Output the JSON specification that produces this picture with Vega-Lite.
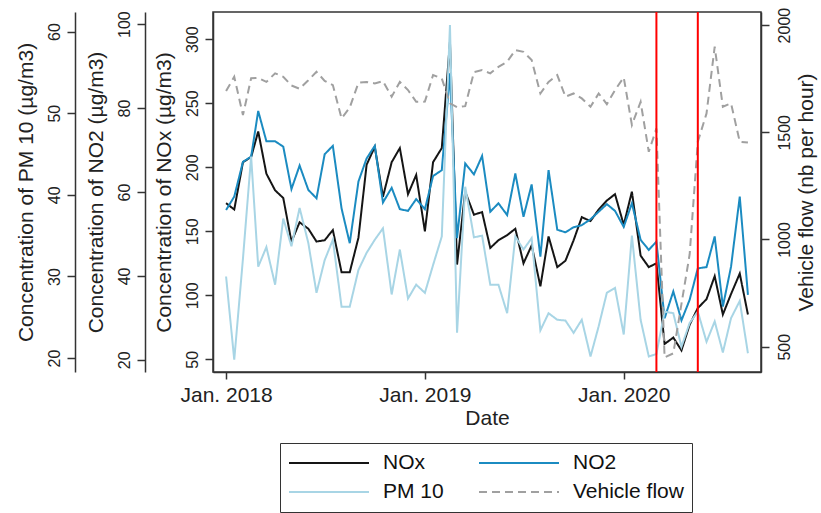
{
  "$schema": "https://vega.github.io/schema/vega-lite/v6.json",
  "width": 548,
  "height": 360,
  "autosize": {"type": "none"},
  "padding": {"left": 213, "top": 12, "right": 60, "bottom": 141},
  "background": "white",
  "config": {
    "font": "Liberation Sans",
    "view": {"stroke": "#333333", "strokeWidth": 1.5},
    "axis": {
      "domainColor": "#333333", "domainWidth": 1.5,
      "tickColor": "#333333", "tickWidth": 1.5, "tickSize": 8,
      "labelFontSize": 16, "labelColor": "#222222", "labelFont": "Liberation Sans",
      "titleFontSize": 21, "titleFontWeight": "normal", "titleColor": "#222222", "titleFont": "Liberation Sans",
      "grid": false
    }
  },
  "datasets": {
    "main": [
      {"date": "2018-01-01", "NOx": 172, "NO2": 55.7, "PM 10": 30.0, "Vehicle flow": 1692},
      {"date": "2018-01-16", "NOx": 167, "NO2": 58.9, "PM 10": 19.8, "Vehicle flow": 1759},
      {"date": "2018-02-01", "NOx": 204, "NO2": 67.2, "PM 10": 32.2, "Vehicle flow": 1580},
      {"date": "2018-02-16", "NOx": 208, "NO2": 68.4, "PM 10": 44.7, "Vehicle flow": 1752},
      {"date": "2018-03-01", "NOx": 228, "NO2": 79.3, "PM 10": 31.2, "Vehicle flow": 1754},
      {"date": "2018-03-16", "NOx": 195, "NO2": 72.1, "PM 10": 33.6, "Vehicle flow": 1735},
      {"date": "2018-04-01", "NOx": 182, "NO2": 72.1, "PM 10": 29.0, "Vehicle flow": 1775},
      {"date": "2018-04-16", "NOx": 176, "NO2": 70.8, "PM 10": 37.1, "Vehicle flow": 1759},
      {"date": "2018-05-01", "NOx": 142, "NO2": 60.7, "PM 10": 33.7, "Vehicle flow": 1718},
      {"date": "2018-05-16", "NOx": 157, "NO2": 66.3, "PM 10": 38.4, "Vehicle flow": 1703},
      {"date": "2018-06-01", "NOx": 152, "NO2": 60.5, "PM 10": 34.1, "Vehicle flow": 1743},
      {"date": "2018-06-16", "NOx": 142, "NO2": 58.5, "PM 10": 28.0, "Vehicle flow": 1782},
      {"date": "2018-07-01", "NOx": 143, "NO2": 69.0, "PM 10": 32.0, "Vehicle flow": 1740},
      {"date": "2018-07-16", "NOx": 151, "NO2": 71.0, "PM 10": 34.5, "Vehicle flow": 1720},
      {"date": "2018-08-01", "NOx": 118, "NO2": 56.1, "PM 10": 26.3, "Vehicle flow": 1565},
      {"date": "2018-08-16", "NOx": 118, "NO2": 47.8, "PM 10": 26.3, "Vehicle flow": 1615},
      {"date": "2018-09-01", "NOx": 145, "NO2": 62.5, "PM 10": 30.8, "Vehicle flow": 1731},
      {"date": "2018-09-16", "NOx": 202, "NO2": 68.0, "PM 10": 32.9, "Vehicle flow": 1735},
      {"date": "2018-10-01", "NOx": 216, "NO2": 71.0, "PM 10": 34.5, "Vehicle flow": 1728},
      {"date": "2018-10-16", "NOx": 177, "NO2": 57.5, "PM 10": 35.9, "Vehicle flow": 1739},
      {"date": "2018-11-01", "NOx": 204, "NO2": 61.0, "PM 10": 27.8, "Vehicle flow": 1666},
      {"date": "2018-11-16", "NOx": 215, "NO2": 55.9, "PM 10": 33.3, "Vehicle flow": 1735},
      {"date": "2018-12-01", "NOx": 179, "NO2": 55.5, "PM 10": 27.3, "Vehicle flow": 1697},
      {"date": "2018-12-16", "NOx": 194, "NO2": 58.3, "PM 10": 29.0, "Vehicle flow": 1642},
      {"date": "2019-01-01", "NOx": 150, "NO2": 55.9, "PM 10": 28.0, "Vehicle flow": 1643},
      {"date": "2019-01-16", "NOx": 204, "NO2": 63.8, "PM 10": 31.4, "Vehicle flow": 1767},
      {"date": "2019-02-01", "NOx": 215, "NO2": 65.2, "PM 10": 34.9, "Vehicle flow": 1751},
      {"date": "2019-02-16", "NOx": 298, "NO2": 88.3, "PM 10": 60.8, "Vehicle flow": 1635},
      {"date": "2019-03-01", "NOx": 124, "NO2": 49.0, "PM 10": 23.1, "Vehicle flow": 1617},
      {"date": "2019-03-16", "NOx": 181, "NO2": 66.8, "PM 10": 41.0, "Vehicle flow": 1622},
      {"date": "2019-04-01", "NOx": 163, "NO2": 64.2, "PM 10": 34.8, "Vehicle flow": 1780},
      {"date": "2019-04-16", "NOx": 165, "NO2": 68.6, "PM 10": 35.0, "Vehicle flow": 1790},
      {"date": "2019-05-01", "NOx": 137, "NO2": 55.3, "PM 10": 29.0, "Vehicle flow": 1775},
      {"date": "2019-05-16", "NOx": 143, "NO2": 57.3, "PM 10": 29.0, "Vehicle flow": 1805},
      {"date": "2019-06-01", "NOx": 147, "NO2": 54.5, "PM 10": 25.5, "Vehicle flow": 1829},
      {"date": "2019-06-16", "NOx": 152, "NO2": 64.4, "PM 10": 34.9, "Vehicle flow": 1883},
      {"date": "2019-07-01", "NOx": 125, "NO2": 54.1, "PM 10": 33.3, "Vehicle flow": 1875},
      {"date": "2019-07-16", "NOx": 139, "NO2": 61.8, "PM 10": 34.7, "Vehicle flow": 1837},
      {"date": "2019-08-01", "NOx": 107, "NO2": 44.6, "PM 10": 23.4, "Vehicle flow": 1681},
      {"date": "2019-08-16", "NOx": 146, "NO2": 65.2, "PM 10": 25.5, "Vehicle flow": 1735},
      {"date": "2019-09-01", "NOx": 122, "NO2": 51.0, "PM 10": 24.7, "Vehicle flow": 1767},
      {"date": "2019-09-16", "NOx": 127, "NO2": 50.4, "PM 10": 24.6, "Vehicle flow": 1666},
      {"date": "2019-10-01", "NOx": 143, "NO2": 51.6, "PM 10": 23.1, "Vehicle flow": 1681},
      {"date": "2019-10-16", "NOx": 161, "NO2": 52.1, "PM 10": 24.7, "Vehicle flow": 1658},
      {"date": "2019-11-01", "NOx": 158, "NO2": 53.5, "PM 10": 20.2, "Vehicle flow": 1619},
      {"date": "2019-11-16", "NOx": 167, "NO2": 55.3, "PM 10": 23.9, "Vehicle flow": 1681},
      {"date": "2019-12-01", "NOx": 174, "NO2": 57.1, "PM 10": 28.0, "Vehicle flow": 1631},
      {"date": "2019-12-16", "NOx": 179, "NO2": 55.5, "PM 10": 28.6, "Vehicle flow": 1697},
      {"date": "2020-01-01", "NOx": 155, "NO2": 51.7, "PM 10": 22.9, "Vehicle flow": 1756},
      {"date": "2020-01-16", "NOx": 181, "NO2": 57.3, "PM 10": 35.0, "Vehicle flow": 1534},
      {"date": "2020-02-01", "NOx": 131, "NO2": 48.6, "PM 10": 24.7, "Vehicle flow": 1642},
      {"date": "2020-02-16", "NOx": 122, "NO2": 46.2, "PM 10": 20.2, "Vehicle flow": 1409},
      {"date": "2020-03-01", "NOx": 125, "NO2": 48.2, "PM 10": 20.5, "Vehicle flow": 1518},
      {"date": "2020-03-16", "NOx": 62, "NO2": 29.9, "PM 10": 25.7, "Vehicle flow": 450},
      {"date": "2020-04-01", "NOx": 67, "NO2": 36.3, "PM 10": 25.5, "Vehicle flow": 469},
      {"date": "2020-04-16", "NOx": 57, "NO2": 29.4, "PM 10": 21.4, "Vehicle flow": 700},
      {"date": "2020-05-01", "NOx": 77, "NO2": 34.3, "PM 10": 24.3, "Vehicle flow": 930},
      {"date": "2020-05-16", "NOx": 90, "NO2": 41.8, "PM 10": 25.7, "Vehicle flow": 1456},
      {"date": "2020-06-01", "NOx": 97, "NO2": 42.1, "PM 10": 22.0, "Vehicle flow": 1588},
      {"date": "2020-06-16", "NOx": 115, "NO2": 49.4, "PM 10": 24.5, "Vehicle flow": 1899},
      {"date": "2020-07-01", "NOx": 85, "NO2": 32.7, "PM 10": 20.7, "Vehicle flow": 1619},
      {"date": "2020-07-16", "NOx": 101, "NO2": 42.2, "PM 10": 24.9, "Vehicle flow": 1635},
      {"date": "2020-08-01", "NOx": 117, "NO2": 58.9, "PM 10": 27.0, "Vehicle flow": 1456},
      {"date": "2020-08-16", "NOx": 85, "NO2": 35.5, "PM 10": 20.6, "Vehicle flow": 1452}
    ]
  },
  "encoding": {
    "x": {
      "field": "date", "type": "temporal",
      "scale": {"type": "utc", "domain": [{"year": 2017, "month": 12, "date": 8, "utc": true}, {"year": 2020, "month": 9, "date": 9, "utc": true}]},
      "axis": {
        "title": "Date", "orient": "bottom",
        "values": [{"year": 2018, "month": 1, "date": 1, "utc": true}, {"year": 2019, "month": 1, "date": 1, "utc": true}, {"year": 2020, "month": 1, "date": 1, "utc": true}],
        "format": "%b. %Y", "labelFontSize": 21, "tickSize": 7, "labelPadding": 5, "titlePadding": 2,
        "labelFlush": false, "labelOverlap": false
      }
    }
  },
  "layer": [
    {
      "data": {"name": "main"},
      "transform": [{"fold": ["NOx"], "as": ["series", "value"]}],
      "mark": {"type": "line", "strokeWidth": 2},
      "encoding": {
        "y": {
          "field": "value", "type": "quantitative",
          "scale": {"domain": [40.1, 321.3], "nice": false, "zero": false},
          "axis": {"orient": "left", "offset": 0, "values": [50, 100, 150, 200, 250, 300], "labelAngle": -90, "labelAlign": "center", "labelBaseline": "bottom", "labelPadding": 5, "title": "Concentration of NOx (µg/m3)", "titlePadding": 10}
        },
        "color": {
          "field": "series", "type": "nominal",
          "scale": {"domain": ["NOx", "NO2", "PM 10", "Vehicle flow"], "range": ["#151515", "#1b8bc1", "#a8d5e5", "#a0a0a0"]},
          "legend": {"title": null, "orient": "none", "direction": "horizontal", "legendX": 67, "legendY": 431, "columns": 2, "symbolType": "stroke", "symbolSize": 6400, "symbolStrokeWidth": 2, "clipHeight": 24, "labelFontSize": 21, "labelOffset": 13, "columnPadding": 34, "rowPadding": 5, "padding": 8, "strokeColor": "#333333", "fillColor": "white", "labelColor": "#111111", "labelLimit": 300}
        },
        "strokeDash": {
          "field": "series", "type": "nominal",
          "scale": {"domain": ["NOx", "NO2", "PM 10", "Vehicle flow"], "range": [[1, 0], [1, 0], [1, 0], [8, 5]]},
          "legend": {"title": null, "orient": "none", "direction": "horizontal", "legendX": 67, "legendY": 431, "columns": 2, "symbolType": "stroke", "symbolSize": 6400, "symbolStrokeWidth": 2, "clipHeight": 24, "labelFontSize": 21, "labelOffset": 13, "columnPadding": 34, "rowPadding": 5, "padding": 8, "strokeColor": "#333333", "fillColor": "white", "labelColor": "#111111", "labelLimit": 300}
        }
      }
    },
    {
      "data": {"name": "main"},
      "transform": [{"fold": ["NO2"], "as": ["series", "value"]}],
      "mark": {"type": "line", "strokeWidth": 2},
      "encoding": {
        "y": {
          "field": "value", "type": "quantitative",
          "scale": {"domain": [17.1, 102.9], "nice": false, "zero": false},
          "axis": {"orient": "left", "offset": 68, "values": [20, 40, 60, 80, 100], "labelAngle": -90, "labelAlign": "center", "labelBaseline": "bottom", "labelPadding": 5, "title": "Concentration of NO2 (µg/m3)", "titlePadding": 10}
        },
        "color": {"field": "series", "type": "nominal"},
        "strokeDash": {"field": "series", "type": "nominal"}
      }
    },
    {
      "data": {"name": "main"},
      "transform": [{"fold": ["PM 10"], "as": ["series", "value"]}],
      "mark": {"type": "line", "strokeWidth": 2},
      "encoding": {
        "y": {
          "field": "value", "type": "quantitative",
          "scale": {"domain": [18.3, 62.4], "nice": false, "zero": false},
          "axis": {"orient": "left", "offset": 138, "values": [20, 30, 40, 50, 60], "labelAngle": -90, "labelAlign": "center", "labelBaseline": "bottom", "labelPadding": 5, "title": "Concentration of PM 10 (µg/m3)", "titlePadding": 10}
        },
        "color": {"field": "series", "type": "nominal"},
        "strokeDash": {"field": "series", "type": "nominal"}
      }
    },
    {
      "data": {"name": "main"},
      "transform": [{"fold": ["Vehicle flow"], "as": ["series", "value"]}],
      "mark": {"type": "line", "strokeWidth": 2},
      "encoding": {
        "y": {
          "field": "value", "type": "quantitative",
          "scale": {"domain": [382, 2061], "nice": false, "zero": false},
          "axis": {"orient": "right", "offset": 0, "values": [500, 1000, 1500, 2000], "format": "d", "labelAngle": -90, "labelAlign": "center", "labelBaseline": "top", "labelPadding": 7, "title": "Vehicle flow (nb per hour)", "titleAngle": 270, "titleBaseline": "top", "titlePadding": 3}
        },
        "color": {"field": "series", "type": "nominal"},
        "strokeDash": {"field": "series", "type": "nominal"}
      }
    },
    {
      "data": {"values": [{"date": "2020-03-01"}, {"date": "2020-05-16"}]},
      "mark": {"type": "rule", "color": "#ff0000", "strokeWidth": 2},
      "encoding": {}
    }
  ],
  "resolve": {"scale": {"y": "independent"}}
}
